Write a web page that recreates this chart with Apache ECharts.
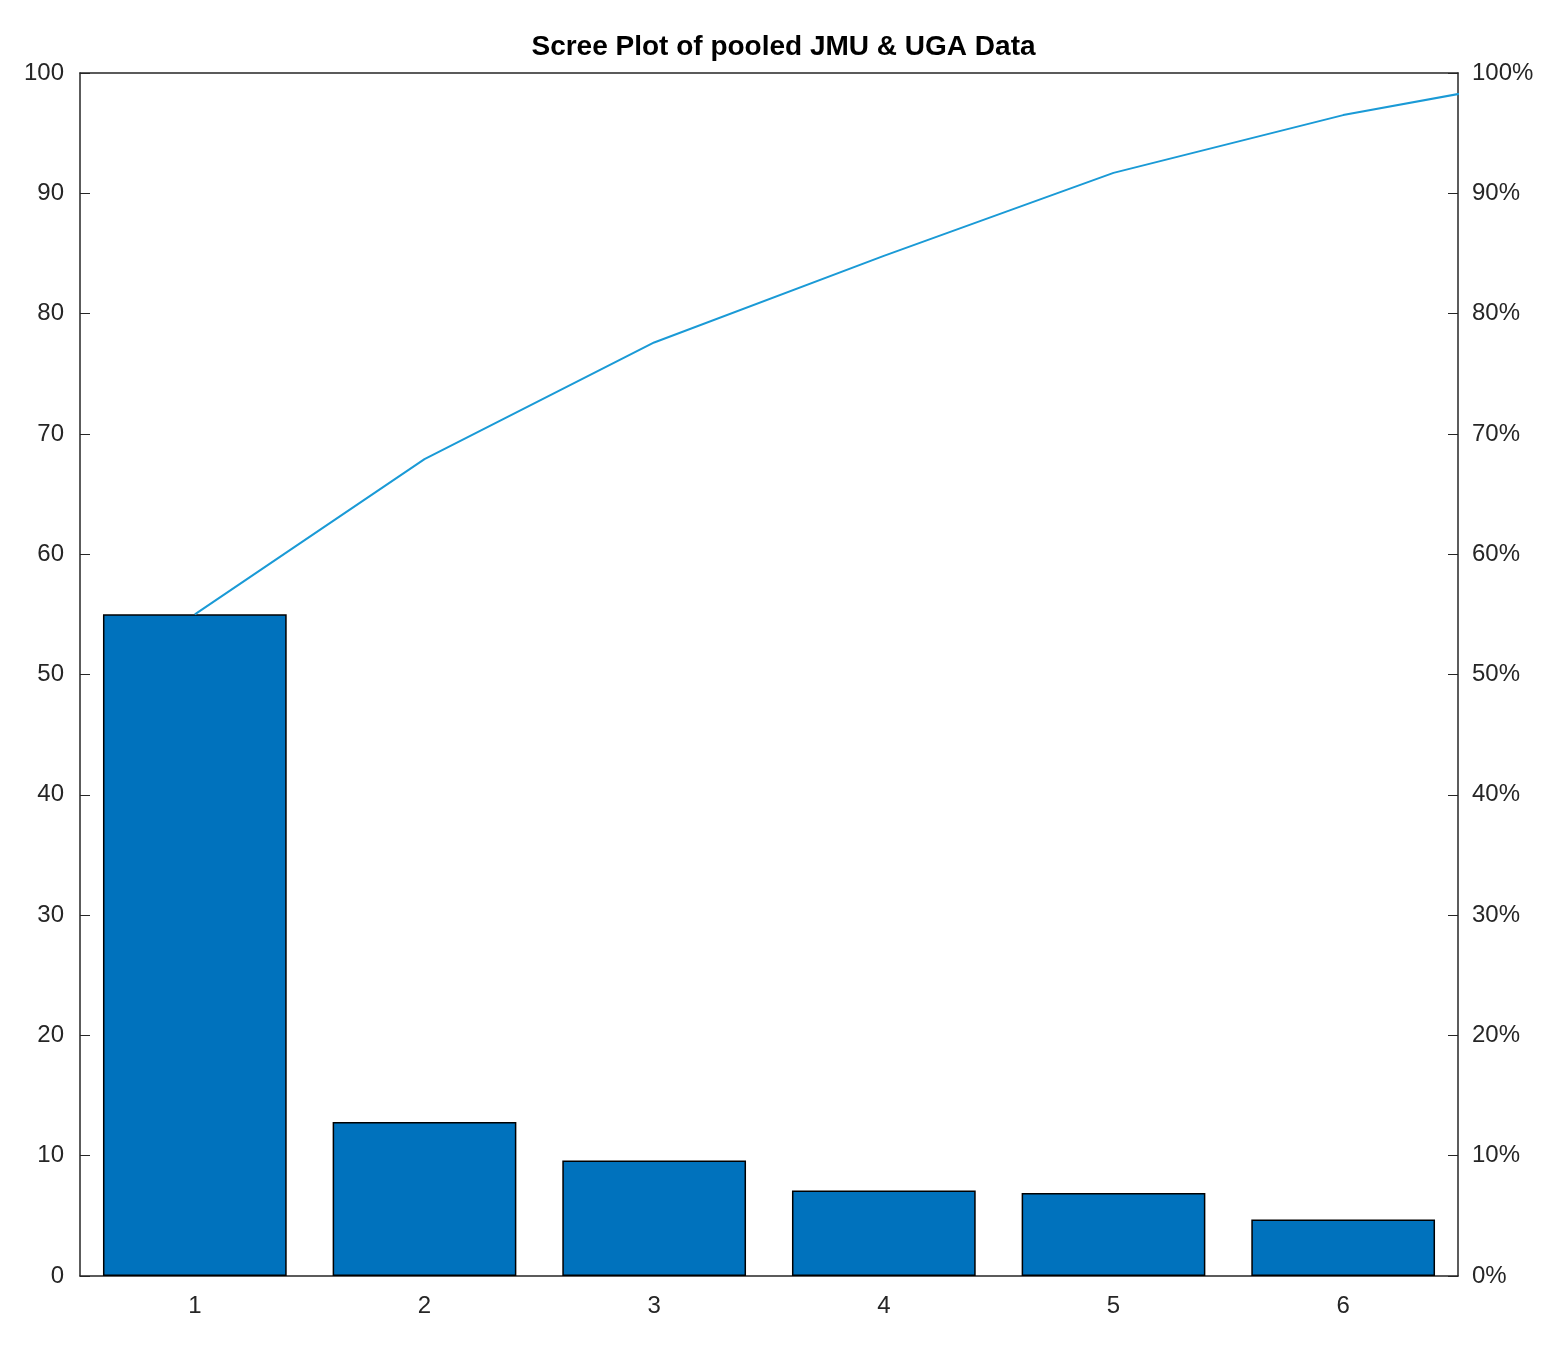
<!DOCTYPE html>
<html>
<head>
<meta charset="utf-8">
<script src="https://cdn.jsdelivr.net/npm/echarts@6/dist/echarts.min.js"></script>
<style>html,body{margin:0;padding:0;background:#fff}#main{width:1567px;height:1362px}</style>
</head>
<body>
<div id="main"></div>
<script>
// 成分编号和方差解释比例
const components = ['1', '2', '3', '4', '5', '6'];
const explained = [55.0, 12.8, 9.6, 7.1, 6.9, 4.7];
// 累计曲线（第7点会被裁掉，只露出到右边界的一段）
const cumX = [1, 2, 3, 4, 5, 6, 7];
const cumY = [55.0, 67.9, 77.6, 84.8, 91.7, 96.5, 100];
const yTicks = [0, 10, 20, 30, 40, 50, 60, 70, 80, 90, 100];

var myChart = echarts.init(document.getElementById('main'));
const labelStyle = { color: '#262626', fontSize: 24, fontFamily: 'Arial, Liberation Sans' };
const axisLine = { show: true, lineStyle: { color: '#262626', width: 1.5 } };
var option = {
  animation: false,
  title: {
    text: 'Scree Plot of pooled JMU & UGA Data',
    left: 'center', top: 28,
    textStyle: { fontSize: 28, fontWeight: 'bold', color: '#000', fontFamily: 'Arial, Liberation Sans' }
  },
  grid: { left: 80, right: 109, top: 73, bottom: 86 },
  xAxis: [
    {
      type: 'category', data: components, boundaryGap: true,
      axisLine: axisLine, axisTick: { show: true, inside: true, alignWithLabel: true, length: 10 },
      axisLabel: Object.assign({ margin: 18 }, labelStyle)
    },
    {
      type: 'value', min: 0.5, max: 6.5, show: false
    },
    {
      type: 'category', position: 'top', data: components,
      axisLine: axisLine, axisTick: { show: false }, axisLabel: { show: false }
    }
  ],
  yAxis: [
    {
      type: 'value', min: 0, max: 100, interval: 10,
      axisLine: axisLine, axisTick: { show: true, inside: true, length: 10 },
      splitLine: { show: false },
      axisLabel: Object.assign({ margin: 16 }, labelStyle)
    },
    {
      type: 'value', min: 0, max: 100, interval: 10, position: 'right',
      axisLine: axisLine, axisTick: { show: true, inside: true, length: 10 },
      splitLine: { show: false },
      axisLabel: Object.assign({ margin: 14, formatter: v => v + '%' }, labelStyle)
    }
  ],
  series: [
    {
      type: 'bar', xAxisIndex: 0, yAxisIndex: 0,
      data: explained, barWidth: '80%',
      itemStyle: { color: '#0072BD', borderColor: '#000', borderWidth: 1.5 }
    },
    {
      type: 'line', xAxisIndex: 1, yAxisIndex: 1, clip: true,
      data: cumX.map((x, i) => [x, cumY[i]]),
      symbol: 'none', lineStyle: { color: '#1a9ad6', width: 2 }
    }
  ]
};
myChart.setOption(option);
</script>
</body>
</html>
